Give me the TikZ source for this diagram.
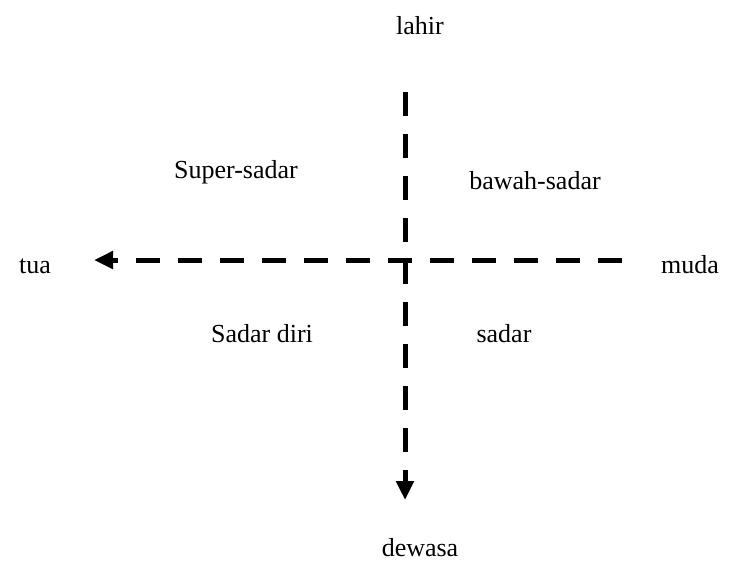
\documentclass[tikz,border=0pt]{standalone}
\usepackage{fontspec}
\setmainfont{Liberation Serif}
\usetikzlibrary{arrows.meta,positioning}

\begin{document}
\begin{tikzpicture}[
    x=0.5pt, y=-0.5pt,
    font=\fontsize{13}{15}\selectfont,
    >={Triangle[length=9.5pt,width=8.5pt]},
    % --- styles ---
    lbl/.style  = {inner sep=0pt, anchor=base},
    axis/.style = {->, line width=2.5pt, dash pattern=on 12pt off 9pt},
]
\useasboundingbox (0,0) rectangle (731,564);

%============ LABELS ============
\node (lahir)  [lbl] at (420,34)  {lahir};
\node (dewasa) [lbl] at (420,556) {dewasa};
\node (tua)    [lbl] at (35,273)  {tua};
\node (muda)   [lbl] at (690,273) {muda};

\node (super)  [lbl] at (236,178) {Super-sadar};
\node (bawah)  [lbl] at (535,189) {bawah-sadar};
\node (sdiri)  [lbl] at (262,342) {Sadar diri};
\node (sadar)  [lbl] at (504,342) {sadar};

%============ AXES ============
\coordinate (vtop) at (405,92);
\coordinate (vbot) at (405,500);
\coordinate (hright) at (622,260);
\coordinate (hleft)  at (94,260);

\draw[axis] (hright) -- (hleft);
\draw[axis] (vtop) -- (vbot);

\end{tikzpicture}
\end{document}
